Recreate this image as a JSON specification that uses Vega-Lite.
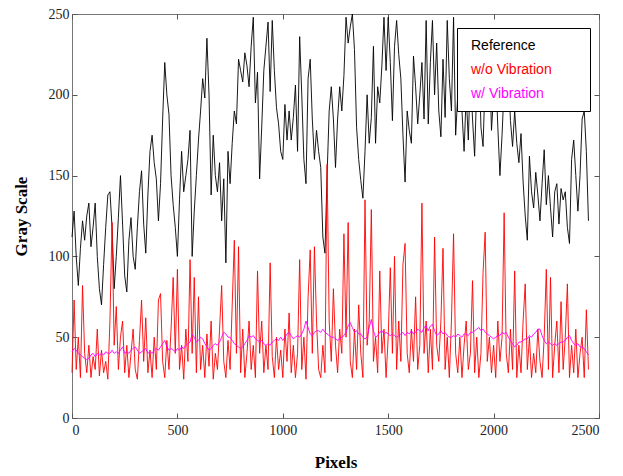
{
"$schema": "https://vega.github.io/schema/vega-lite/v6.json",
"width": 527, "height": 404,
"autosize": {"type": "none"},
"padding": {"left": 72, "top": 14, "right": 24, "bottom": 58},
"background": "white",
"config": {"view": {"stroke": "#777777", "strokeWidth": 1}},
"data": {"values": [
{"x":0,"Reference":112,"w/o Vibration":28,"w/ Vibration":41},
{"x":10,"Reference":128,"w/o Vibration":73,"w/ Vibration":43},
{"x":20,"Reference":100,"w/o Vibration":30,"w/ Vibration":42},
{"x":30,"Reference":82,"w/o Vibration":50,"w/ Vibration":40},
{"x":40,"Reference":105,"w/o Vibration":25,"w/ Vibration":39},
{"x":50,"Reference":122,"w/o Vibration":82,"w/ Vibration":38},
{"x":60,"Reference":110,"w/o Vibration":40,"w/ Vibration":37},
{"x":70,"Reference":125,"w/o Vibration":28,"w/ Vibration":36},
{"x":80,"Reference":133,"w/o Vibration":45,"w/ Vibration":37},
{"x":90,"Reference":106,"w/o Vibration":25,"w/ Vibration":39},
{"x":100,"Reference":118,"w/o Vibration":38,"w/ Vibration":40},
{"x":110,"Reference":133,"w/o Vibration":30,"w/ Vibration":38},
{"x":120,"Reference":100,"w/o Vibration":55,"w/ Vibration":40},
{"x":130,"Reference":80,"w/o Vibration":26,"w/ Vibration":39},
{"x":140,"Reference":70,"w/o Vibration":42,"w/ Vibration":40},
{"x":150,"Reference":95,"w/o Vibration":28,"w/ Vibration":39},
{"x":160,"Reference":118,"w/o Vibration":35,"w/ Vibration":41},
{"x":170,"Reference":138,"w/o Vibration":24,"w/ Vibration":40},
{"x":180,"Reference":140,"w/o Vibration":60,"w/ Vibration":40},
{"x":190,"Reference":118,"w/o Vibration":121,"w/ Vibration":42},
{"x":200,"Reference":80,"w/o Vibration":45,"w/ Vibration":40},
{"x":210,"Reference":100,"w/o Vibration":69,"w/ Vibration":41},
{"x":220,"Reference":124,"w/o Vibration":30,"w/ Vibration":40},
{"x":230,"Reference":150,"w/o Vibration":50,"w/ Vibration":42},
{"x":240,"Reference":120,"w/o Vibration":60,"w/ Vibration":44},
{"x":250,"Reference":88,"w/o Vibration":28,"w/ Vibration":40},
{"x":260,"Reference":78,"w/o Vibration":45,"w/ Vibration":41},
{"x":270,"Reference":110,"w/o Vibration":25,"w/ Vibration":40},
{"x":280,"Reference":124,"w/o Vibration":40,"w/ Vibration":42},
{"x":290,"Reference":100,"w/o Vibration":55,"w/ Vibration":43},
{"x":300,"Reference":92,"w/o Vibration":30,"w/ Vibration":44},
{"x":310,"Reference":118,"w/o Vibration":24,"w/ Vibration":42},
{"x":320,"Reference":140,"w/o Vibration":48,"w/ Vibration":40},
{"x":330,"Reference":153,"w/o Vibration":73,"w/ Vibration":41},
{"x":340,"Reference":120,"w/o Vibration":35,"w/ Vibration":42},
{"x":350,"Reference":102,"w/o Vibration":62,"w/ Vibration":43},
{"x":360,"Reference":138,"w/o Vibration":28,"w/ Vibration":40},
{"x":370,"Reference":165,"w/o Vibration":42,"w/ Vibration":41},
{"x":380,"Reference":175,"w/o Vibration":25,"w/ Vibration":40},
{"x":390,"Reference":158,"w/o Vibration":50,"w/ Vibration":42},
{"x":400,"Reference":148,"w/o Vibration":30,"w/ Vibration":43},
{"x":410,"Reference":122,"w/o Vibration":73,"w/ Vibration":42},
{"x":420,"Reference":145,"w/o Vibration":77,"w/ Vibration":44},
{"x":430,"Reference":185,"w/o Vibration":35,"w/ Vibration":46},
{"x":440,"Reference":220,"w/o Vibration":25,"w/ Vibration":48},
{"x":450,"Reference":200,"w/o Vibration":48,"w/ Vibration":44},
{"x":460,"Reference":188,"w/o Vibration":30,"w/ Vibration":42},
{"x":470,"Reference":150,"w/o Vibration":55,"w/ Vibration":43},
{"x":480,"Reference":132,"w/o Vibration":87,"w/ Vibration":42},
{"x":490,"Reference":118,"w/o Vibration":40,"w/ Vibration":41},
{"x":500,"Reference":100,"w/o Vibration":92,"w/ Vibration":43},
{"x":510,"Reference":135,"w/o Vibration":30,"w/ Vibration":42},
{"x":520,"Reference":165,"w/o Vibration":45,"w/ Vibration":44},
{"x":530,"Reference":140,"w/o Vibration":24,"w/ Vibration":43},
{"x":540,"Reference":150,"w/o Vibration":55,"w/ Vibration":45},
{"x":550,"Reference":160,"w/o Vibration":35,"w/ Vibration":46},
{"x":560,"Reference":178,"w/o Vibration":98,"w/ Vibration":47},
{"x":570,"Reference":100,"w/o Vibration":40,"w/ Vibration":52},
{"x":580,"Reference":128,"w/o Vibration":87,"w/ Vibration":50},
{"x":590,"Reference":150,"w/o Vibration":28,"w/ Vibration":47},
{"x":600,"Reference":172,"w/o Vibration":75,"w/ Vibration":48},
{"x":610,"Reference":190,"w/o Vibration":30,"w/ Vibration":50},
{"x":620,"Reference":210,"w/o Vibration":45,"w/ Vibration":49},
{"x":630,"Reference":198,"w/o Vibration":25,"w/ Vibration":46},
{"x":640,"Reference":235,"w/o Vibration":52,"w/ Vibration":44},
{"x":650,"Reference":200,"w/o Vibration":32,"w/ Vibration":42},
{"x":660,"Reference":138,"w/o Vibration":60,"w/ Vibration":43},
{"x":670,"Reference":175,"w/o Vibration":24,"w/ Vibration":45},
{"x":680,"Reference":150,"w/o Vibration":40,"w/ Vibration":46},
{"x":690,"Reference":140,"w/o Vibration":30,"w/ Vibration":45},
{"x":700,"Reference":158,"w/o Vibration":55,"w/ Vibration":47},
{"x":710,"Reference":122,"w/o Vibration":82,"w/ Vibration":50},
{"x":720,"Reference":148,"w/o Vibration":35,"w/ Vibration":53},
{"x":730,"Reference":96,"w/o Vibration":25,"w/ Vibration":52},
{"x":740,"Reference":165,"w/o Vibration":48,"w/ Vibration":50},
{"x":750,"Reference":145,"w/o Vibration":30,"w/ Vibration":50},
{"x":760,"Reference":170,"w/o Vibration":70,"w/ Vibration":48},
{"x":770,"Reference":190,"w/o Vibration":110,"w/ Vibration":46},
{"x":780,"Reference":182,"w/o Vibration":40,"w/ Vibration":45},
{"x":790,"Reference":222,"w/o Vibration":106,"w/ Vibration":44},
{"x":800,"Reference":215,"w/o Vibration":28,"w/ Vibration":43},
{"x":810,"Reference":208,"w/o Vibration":55,"w/ Vibration":44},
{"x":820,"Reference":226,"w/o Vibration":25,"w/ Vibration":46},
{"x":830,"Reference":218,"w/o Vibration":40,"w/ Vibration":48},
{"x":840,"Reference":205,"w/o Vibration":60,"w/ Vibration":51},
{"x":850,"Reference":230,"w/o Vibration":30,"w/ Vibration":50},
{"x":860,"Reference":248,"w/o Vibration":45,"w/ Vibration":51},
{"x":870,"Reference":195,"w/o Vibration":25,"w/ Vibration":49},
{"x":880,"Reference":214,"w/o Vibration":91,"w/ Vibration":48},
{"x":890,"Reference":148,"w/o Vibration":40,"w/ Vibration":47},
{"x":900,"Reference":180,"w/o Vibration":60,"w/ Vibration":48},
{"x":910,"Reference":215,"w/o Vibration":28,"w/ Vibration":46},
{"x":920,"Reference":230,"w/o Vibration":45,"w/ Vibration":45},
{"x":930,"Reference":245,"w/o Vibration":30,"w/ Vibration":46},
{"x":940,"Reference":202,"w/o Vibration":96,"w/ Vibration":45},
{"x":950,"Reference":246,"w/o Vibration":38,"w/ Vibration":47},
{"x":960,"Reference":215,"w/o Vibration":25,"w/ Vibration":48},
{"x":970,"Reference":192,"w/o Vibration":50,"w/ Vibration":49},
{"x":980,"Reference":182,"w/o Vibration":30,"w/ Vibration":48},
{"x":990,"Reference":165,"w/o Vibration":42,"w/ Vibration":50},
{"x":1000,"Reference":160,"w/o Vibration":25,"w/ Vibration":48},
{"x":1010,"Reference":194,"w/o Vibration":55,"w/ Vibration":50},
{"x":1020,"Reference":172,"w/o Vibration":35,"w/ Vibration":52},
{"x":1030,"Reference":190,"w/o Vibration":65,"w/ Vibration":53},
{"x":1040,"Reference":172,"w/o Vibration":28,"w/ Vibration":51},
{"x":1050,"Reference":186,"w/o Vibration":45,"w/ Vibration":49},
{"x":1060,"Reference":206,"w/o Vibration":25,"w/ Vibration":50},
{"x":1070,"Reference":165,"w/o Vibration":40,"w/ Vibration":51},
{"x":1080,"Reference":236,"w/o Vibration":98,"w/ Vibration":50},
{"x":1090,"Reference":200,"w/o Vibration":30,"w/ Vibration":52},
{"x":1100,"Reference":160,"w/o Vibration":50,"w/ Vibration":55},
{"x":1110,"Reference":145,"w/o Vibration":24,"w/ Vibration":60},
{"x":1120,"Reference":210,"w/o Vibration":75,"w/ Vibration":56},
{"x":1130,"Reference":222,"w/o Vibration":104,"w/ Vibration":52},
{"x":1140,"Reference":185,"w/o Vibration":40,"w/ Vibration":51},
{"x":1150,"Reference":160,"w/o Vibration":106,"w/ Vibration":53},
{"x":1160,"Reference":178,"w/o Vibration":60,"w/ Vibration":54},
{"x":1170,"Reference":165,"w/o Vibration":30,"w/ Vibration":54},
{"x":1180,"Reference":155,"w/o Vibration":25,"w/ Vibration":53},
{"x":1190,"Reference":112,"w/o Vibration":45,"w/ Vibration":55},
{"x":1200,"Reference":102,"w/o Vibration":28,"w/ Vibration":53},
{"x":1210,"Reference":150,"w/o Vibration":157,"w/ Vibration":52},
{"x":1220,"Reference":190,"w/o Vibration":60,"w/ Vibration":51},
{"x":1230,"Reference":205,"w/o Vibration":35,"w/ Vibration":50},
{"x":1240,"Reference":185,"w/o Vibration":80,"w/ Vibration":50},
{"x":1250,"Reference":155,"w/o Vibration":45,"w/ Vibration":49},
{"x":1260,"Reference":185,"w/o Vibration":28,"w/ Vibration":48},
{"x":1270,"Reference":205,"w/o Vibration":55,"w/ Vibration":49},
{"x":1280,"Reference":190,"w/o Vibration":40,"w/ Vibration":50},
{"x":1290,"Reference":212,"w/o Vibration":114,"w/ Vibration":51},
{"x":1300,"Reference":248,"w/o Vibration":50,"w/ Vibration":53},
{"x":1310,"Reference":232,"w/o Vibration":121,"w/ Vibration":57},
{"x":1320,"Reference":242,"w/o Vibration":35,"w/ Vibration":59},
{"x":1330,"Reference":250,"w/o Vibration":25,"w/ Vibration":56},
{"x":1340,"Reference":228,"w/o Vibration":55,"w/ Vibration":53},
{"x":1350,"Reference":180,"w/o Vibration":30,"w/ Vibration":54},
{"x":1360,"Reference":160,"w/o Vibration":70,"w/ Vibration":52},
{"x":1370,"Reference":147,"w/o Vibration":40,"w/ Vibration":52},
{"x":1380,"Reference":136,"w/o Vibration":25,"w/ Vibration":50},
{"x":1390,"Reference":165,"w/o Vibration":135,"w/ Vibration":49},
{"x":1400,"Reference":200,"w/o Vibration":45,"w/ Vibration":50},
{"x":1410,"Reference":170,"w/o Vibration":60,"w/ Vibration":56},
{"x":1420,"Reference":186,"w/o Vibration":129,"w/ Vibration":61},
{"x":1430,"Reference":230,"w/o Vibration":35,"w/ Vibration":54},
{"x":1440,"Reference":170,"w/o Vibration":50,"w/ Vibration":50},
{"x":1450,"Reference":205,"w/o Vibration":28,"w/ Vibration":51},
{"x":1460,"Reference":195,"w/o Vibration":91,"w/ Vibration":53},
{"x":1470,"Reference":218,"w/o Vibration":40,"w/ Vibration":54},
{"x":1480,"Reference":248,"w/o Vibration":55,"w/ Vibration":52},
{"x":1490,"Reference":215,"w/o Vibration":25,"w/ Vibration":53},
{"x":1500,"Reference":248,"w/o Vibration":50,"w/ Vibration":52},
{"x":1510,"Reference":220,"w/o Vibration":93,"w/ Vibration":51},
{"x":1520,"Reference":184,"w/o Vibration":40,"w/ Vibration":52},
{"x":1530,"Reference":230,"w/o Vibration":100,"w/ Vibration":51},
{"x":1540,"Reference":246,"w/o Vibration":30,"w/ Vibration":50},
{"x":1550,"Reference":225,"w/o Vibration":60,"w/ Vibration":51},
{"x":1560,"Reference":210,"w/o Vibration":35,"w/ Vibration":52},
{"x":1570,"Reference":175,"w/o Vibration":95,"w/ Vibration":53},
{"x":1580,"Reference":146,"w/o Vibration":108,"w/ Vibration":51},
{"x":1590,"Reference":190,"w/o Vibration":40,"w/ Vibration":53},
{"x":1600,"Reference":178,"w/o Vibration":28,"w/ Vibration":52},
{"x":1610,"Reference":170,"w/o Vibration":55,"w/ Vibration":54},
{"x":1620,"Reference":224,"w/o Vibration":35,"w/ Vibration":52},
{"x":1630,"Reference":205,"w/o Vibration":75,"w/ Vibration":53},
{"x":1640,"Reference":182,"w/o Vibration":30,"w/ Vibration":55},
{"x":1650,"Reference":200,"w/o Vibration":45,"w/ Vibration":54},
{"x":1660,"Reference":220,"w/o Vibration":133,"w/ Vibration":53},
{"x":1670,"Reference":185,"w/o Vibration":40,"w/ Vibration":56},
{"x":1680,"Reference":246,"w/o Vibration":60,"w/ Vibration":57},
{"x":1690,"Reference":182,"w/o Vibration":28,"w/ Vibration":54},
{"x":1700,"Reference":220,"w/o Vibration":55,"w/ Vibration":57},
{"x":1710,"Reference":246,"w/o Vibration":30,"w/ Vibration":58},
{"x":1720,"Reference":200,"w/o Vibration":112,"w/ Vibration":54},
{"x":1730,"Reference":232,"w/o Vibration":45,"w/ Vibration":51},
{"x":1740,"Reference":190,"w/o Vibration":35,"w/ Vibration":52},
{"x":1750,"Reference":174,"w/o Vibration":60,"w/ Vibration":54},
{"x":1760,"Reference":222,"w/o Vibration":105,"w/ Vibration":52},
{"x":1770,"Reference":186,"w/o Vibration":30,"w/ Vibration":53},
{"x":1780,"Reference":246,"w/o Vibration":50,"w/ Vibration":51},
{"x":1790,"Reference":210,"w/o Vibration":25,"w/ Vibration":50},
{"x":1800,"Reference":190,"w/o Vibration":60,"w/ Vibration":50},
{"x":1810,"Reference":248,"w/o Vibration":114,"w/ Vibration":51},
{"x":1820,"Reference":175,"w/o Vibration":40,"w/ Vibration":50},
{"x":1830,"Reference":200,"w/o Vibration":28,"w/ Vibration":52},
{"x":1840,"Reference":225,"w/o Vibration":50,"w/ Vibration":51},
{"x":1850,"Reference":190,"w/o Vibration":25,"w/ Vibration":50},
{"x":1860,"Reference":165,"w/o Vibration":45,"w/ Vibration":52},
{"x":1870,"Reference":200,"w/o Vibration":60,"w/ Vibration":52},
{"x":1880,"Reference":172,"w/o Vibration":30,"w/ Vibration":51},
{"x":1890,"Reference":215,"w/o Vibration":40,"w/ Vibration":53},
{"x":1900,"Reference":185,"w/o Vibration":85,"w/ Vibration":53},
{"x":1910,"Reference":162,"w/o Vibration":28,"w/ Vibration":54},
{"x":1920,"Reference":205,"w/o Vibration":50,"w/ Vibration":55},
{"x":1930,"Reference":230,"w/o Vibration":25,"w/ Vibration":56},
{"x":1940,"Reference":180,"w/o Vibration":40,"w/ Vibration":54},
{"x":1950,"Reference":168,"w/o Vibration":90,"w/ Vibration":55},
{"x":1960,"Reference":210,"w/o Vibration":115,"w/ Vibration":53},
{"x":1970,"Reference":195,"w/o Vibration":35,"w/ Vibration":52},
{"x":1980,"Reference":225,"w/o Vibration":50,"w/ Vibration":51},
{"x":1990,"Reference":178,"w/o Vibration":28,"w/ Vibration":50},
{"x":2000,"Reference":200,"w/o Vibration":45,"w/ Vibration":49},
{"x":2010,"Reference":215,"w/o Vibration":25,"w/ Vibration":50},
{"x":2020,"Reference":180,"w/o Vibration":60,"w/ Vibration":51},
{"x":2030,"Reference":150,"w/o Vibration":35,"w/ Vibration":51},
{"x":2040,"Reference":175,"w/o Vibration":50,"w/ Vibration":53},
{"x":2050,"Reference":205,"w/o Vibration":127,"w/ Vibration":52},
{"x":2060,"Reference":190,"w/o Vibration":40,"w/ Vibration":53},
{"x":2070,"Reference":215,"w/o Vibration":28,"w/ Vibration":50},
{"x":2080,"Reference":184,"w/o Vibration":55,"w/ Vibration":48},
{"x":2090,"Reference":168,"w/o Vibration":30,"w/ Vibration":46},
{"x":2100,"Reference":190,"w/o Vibration":91,"w/ Vibration":44},
{"x":2110,"Reference":170,"w/o Vibration":25,"w/ Vibration":45},
{"x":2120,"Reference":158,"w/o Vibration":45,"w/ Vibration":47},
{"x":2130,"Reference":176,"w/o Vibration":28,"w/ Vibration":47},
{"x":2140,"Reference":146,"w/o Vibration":60,"w/ Vibration":48},
{"x":2150,"Reference":125,"w/o Vibration":83,"w/ Vibration":49},
{"x":2160,"Reference":110,"w/o Vibration":30,"w/ Vibration":49},
{"x":2170,"Reference":162,"w/o Vibration":50,"w/ Vibration":51},
{"x":2180,"Reference":140,"w/o Vibration":25,"w/ Vibration":50},
{"x":2190,"Reference":130,"w/o Vibration":40,"w/ Vibration":52},
{"x":2200,"Reference":152,"w/o Vibration":28,"w/ Vibration":53},
{"x":2210,"Reference":138,"w/o Vibration":55,"w/ Vibration":55},
{"x":2220,"Reference":122,"w/o Vibration":35,"w/ Vibration":55},
{"x":2230,"Reference":145,"w/o Vibration":25,"w/ Vibration":51},
{"x":2240,"Reference":166,"w/o Vibration":50,"w/ Vibration":48},
{"x":2250,"Reference":132,"w/o Vibration":92,"w/ Vibration":46},
{"x":2260,"Reference":150,"w/o Vibration":30,"w/ Vibration":47},
{"x":2270,"Reference":130,"w/o Vibration":87,"w/ Vibration":46},
{"x":2280,"Reference":112,"w/o Vibration":25,"w/ Vibration":45},
{"x":2290,"Reference":140,"w/o Vibration":45,"w/ Vibration":46},
{"x":2300,"Reference":145,"w/o Vibration":60,"w/ Vibration":45},
{"x":2310,"Reference":120,"w/o Vibration":28,"w/ Vibration":46},
{"x":2320,"Reference":142,"w/o Vibration":72,"w/ Vibration":47},
{"x":2330,"Reference":135,"w/o Vibration":30,"w/ Vibration":47},
{"x":2340,"Reference":140,"w/o Vibration":50,"w/ Vibration":48},
{"x":2350,"Reference":118,"w/o Vibration":83,"w/ Vibration":50},
{"x":2360,"Reference":108,"w/o Vibration":25,"w/ Vibration":51},
{"x":2370,"Reference":160,"w/o Vibration":45,"w/ Vibration":48},
{"x":2380,"Reference":172,"w/o Vibration":28,"w/ Vibration":46},
{"x":2390,"Reference":150,"w/o Vibration":55,"w/ Vibration":45},
{"x":2400,"Reference":128,"w/o Vibration":25,"w/ Vibration":46},
{"x":2410,"Reference":150,"w/o Vibration":40,"w/ Vibration":44},
{"x":2420,"Reference":185,"w/o Vibration":50,"w/ Vibration":44},
{"x":2430,"Reference":190,"w/o Vibration":25,"w/ Vibration":43},
{"x":2440,"Reference":165,"w/o Vibration":67,"w/ Vibration":41},
{"x":2450,"Reference":122,"w/o Vibration":30,"w/ Vibration":39}
]},
"transform": [{"fold": ["Reference", "w/o Vibration", "w/ Vibration"], "as": ["series", "value"]}],
"layer": [
{
"mark": {"type": "line", "interpolate": "linear"},
"encoding": {
"x": {"field": "x", "type": "quantitative", "scale": {"domain": [0, 2500], "nice": false},
"axis": {"orient": "bottom", "title": "Pixels", "values": [0, 500, 1000, 1500, 2000, 2500], "format": "d", "grid": false,
"domain": false, "tickSize": -5, "tickColor": "#555555", "labelPadding": 10,
"labelFont": "Liberation Serif", "labelFontSize": 14, "labelColor": "#222222",
"titleFont": "Liberation Serif", "titleFontSize": 17, "titleFontWeight": "bold", "titleColor": "#000000", "titlePadding": 17}},
"y": {"field": "value", "type": "quantitative", "scale": {"domain": [0, 250], "nice": false},
"axis": {"orient": "left", "title": "Gray  Scale", "values": [0, 50, 100, 150, 200, 250], "format": "d", "grid": false,
"domain": false, "tickSize": -5, "tickColor": "#555555", "labelPadding": 8,
"labelFont": "Liberation Serif", "labelFontSize": 14, "labelColor": "#222222",
"titleFont": "Liberation Serif", "titleFontSize": 17, "titleFontWeight": "bold", "titleColor": "#000000", "titlePadding": 18}},
"color": {"field": "series", "type": "nominal",
"scale": {"domain": ["Reference", "w/o Vibration", "w/ Vibration"], "range": ["#000000", "#ff0000", "#ff00ff"]},
"legend": {"orient": "none", "legendX": 385, "legendY": 14, "title": null,
"fillColor": "white", "strokeColor": "#000000", "padding": 10,
"symbolSize": 225, "symbolType": "M-1,0L14,0", "symbolOpacity": 0, "symbolStrokeWidth": 0, "labelOffset": -12,
"rowPadding": 9, "labelFont": "Liberation Sans", "labelFontSize": 14,
"encode": {"labels": {"update": {"fill": {"scale": "color", "field": "value"}}}}}},
"strokeWidth": {"field": "series", "type": "nominal",
"scale": {"domain": ["Reference", "w/o Vibration", "w/ Vibration"], "range": [0.9, 0.9, 2.2]}, "legend": null}
}
},
{
"mark": {"type": "point", "opacity": 0},
"encoding": {
"x": {"field": "x", "type": "quantitative",
"axis": {"orient": "top", "title": null, "labels": false, "values": [0, 500, 1000, 1500, 2000, 2500], "grid": false, "domain": false, "tickSize": -5, "tickColor": "#555555"}},
"y": {"field": "value", "type": "quantitative",
"axis": {"orient": "right", "title": null, "labels": false, "values": [0, 50, 100, 150, 200, 250], "grid": false, "domain": false, "tickSize": -5, "tickColor": "#555555"}}
}
}
],
"resolve": {"axis": {"x": "independent", "y": "independent"}}
}
